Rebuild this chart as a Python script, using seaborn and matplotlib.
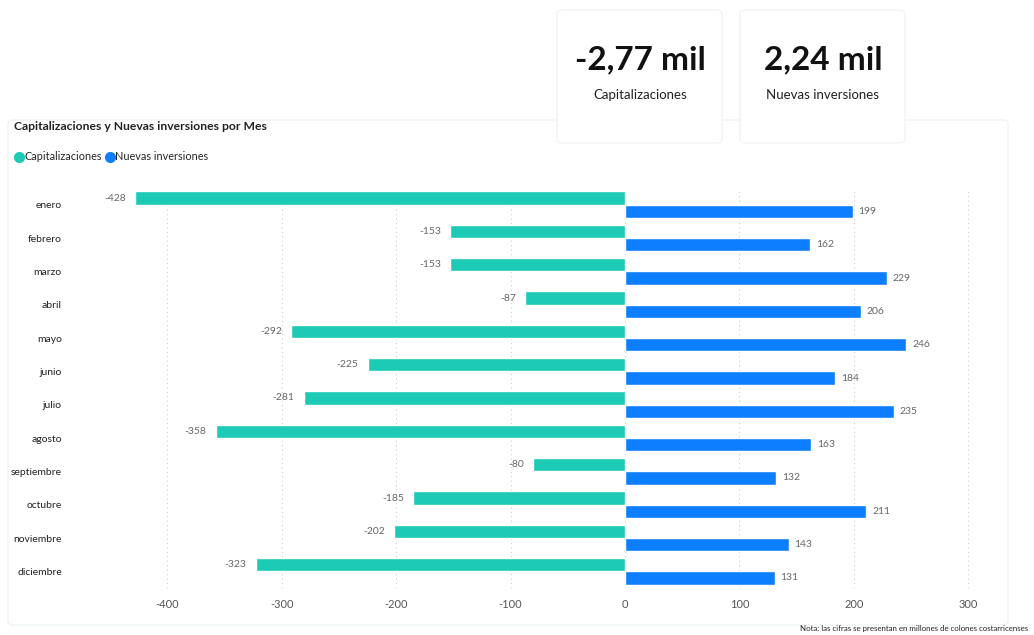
import pandas as pd
import matplotlib.pyplot as plt
import seaborn as sns
from matplotlib.patches import FancyBboxPatch
from matplotlib.lines import Line2D

meses = ['enero', 'febrero', 'marzo', 'abril', 'mayo', 'junio', 'julio',
         'agosto', 'septiembre', 'octubre', 'noviembre', 'diciembre']
capitalizaciones = [-428, -153, -153, -87, -292, -225, -281, -358, -80, -185, -202, -323]
nuevas = [199, 162, 229, 206, 246, 184, 235, 163, 132, 211, 143, 131]
series = ['Capitalizaciones', 'Nuevas inversiones']
colores = ['#1CCAB5', '#0D7EFF']
tarjetas = ['-2,77 mil', '2,24 mil']

df = pd.DataFrame({
    'Mes': meses * 2,
    'Valor': capitalizaciones + nuevas,
    'Serie': [series[0]] * 12 + [series[1]] * 12,
})

sns.set_theme(style='white')
plt.rcParams['font.family'] = ['Lato', 'DejaVu Sans']
plt.rcParams['axes.unicode_minus'] = False

fig = plt.figure(figsize=(10.34, 6.35), dpi=100)
fig.patch.set_facecolor('white')

# chart container
fig.patches.append(FancyBboxPatch((8 / 1034, 10 / 635), 1000 / 1034, 505 / 635,
                                  boxstyle='round,pad=0,rounding_size=0.006',
                                  transform=fig.transFigure, fc='none', ec='#EEF4F3', lw=1))
# cards
for i, x0 in enumerate([557, 740]):
    fig.patches.append(FancyBboxPatch((x0 / 1034, 1 - 143 / 635), 165 / 1034, 133 / 635,
                                      boxstyle='round,pad=0,rounding_size=0.006',
                                      transform=fig.transFigure, fc='white', ec='#F3F3F3', lw=1))
    cx = (x0 + 83) / 1034
    fig.text(cx, 1 - 60 / 635, tarjetas[i], ha='center', va='center',
             fontsize=24, fontweight='bold', color='#111111')
    fig.text(cx, 1 - 95 / 635, series[i], ha='center', va='center',
             fontsize=9.5, color='#222222')

fig.text(14 / 1034, 1 - 127 / 635, 'Capitalizaciones y Nuevas inversiones por Mes',
         ha='left', va='center', fontsize=8.7, fontweight='bold', color='#222222')

ax = fig.add_axes([116 / 1034, 1 - 588 / 635, 875 / 1034, 400 / 635])
sns.barplot(data=df, y='Mes', x='Valor', hue='Serie', palette=colores,
            orient='h', width=0.8, ax=ax, legend=False, saturation=1)

for c, cont in enumerate(ax.containers):
    for bar, v in zip(cont, [capitalizaciones, nuevas][c]):
        y = bar.get_y() + bar.get_height() / 2
        if v < 0:
            ax.text(v - 8, y, f'{v}', ha='right', va='center', fontsize=7.5, color='#666666')
        else:
            ax.text(v + 5, y, f'{v}', ha='left', va='center', fontsize=7.5, color='#666666')

ax.set_xlim(-445, 320)
ax.set_ylim(11.5, -0.5)
ax.set_xticks([-400, -300, -200, -100, 0, 100, 200, 300])
ax.set_xlabel('')
ax.set_ylabel('')
for s in ax.spines.values():
    s.set_visible(False)
ax.grid(axis='x', linestyle=(0, (1, 3)), color='#CCCCCC', lw=0.8)
ax.set_axisbelow(True)
ax.tick_params(axis='y', length=0, pad=39, labelsize=7.5, labelcolor='#222222')
ax.tick_params(axis='x', length=0, pad=8, labelsize=8, labelcolor='#555555')

handles = [Line2D([], [], marker='o', ls='', markersize=7, color=col) for col in colores]
fig.legend(handles, series, loc='center left', bbox_to_anchor=(6 / 1034, 1 - 157 / 635),
           frameon=False, fontsize=7.8, handletextpad=0.0, columnspacing=0.2, ncol=2,
           handlelength=1, borderpad=0.2)

fig.text(1028 / 1034, 1 - 629 / 635,
         'Nota: las cifras se presentan en millones de colones costarricenses',
         ha='right', va='center', fontsize=5.7, color='#222222')

fig.savefig('out.png', dpi=100, facecolor='white')
